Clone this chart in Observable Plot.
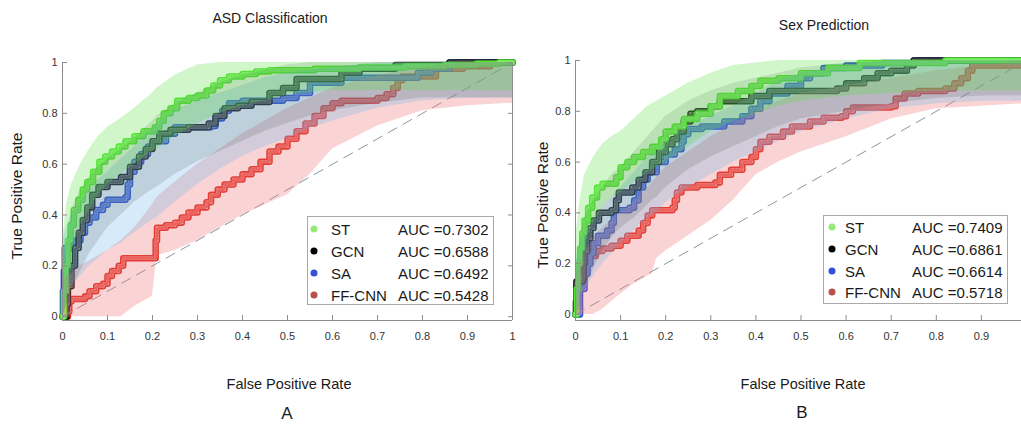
<!DOCTYPE html>
<html><head><meta charset="utf-8">
<script src="https://cdn.jsdelivr.net/npm/d3@7"></script>
<script src="https://cdn.jsdelivr.net/npm/@observablehq/plot@0.6"></script>
<style>
body{margin:0;background:#fff;}
#wrap{position:relative;width:1021px;height:424px;overflow:hidden;font-family:"Liberation Sans",Arial,Helvetica,sans-serif;color:#1a1a1a;background:#fff;}
.panel{position:absolute;top:0;}
.lbl{position:absolute;white-space:nowrap;transform:translate(-50%,-50%);line-height:1;}
.legend{position:absolute;border:1px solid #a9a9a9;background:#fff;font-size:15px;box-sizing:border-box;}
.legend .row{position:absolute;left:0;right:0;height:0;}
.legend .dot{position:absolute;width:7px;height:7px;border-radius:50%;transform:translate(-50%,-50%);top:0;}
.legend .txt{position:absolute;top:0;transform:translateY(-50%);white-space:nowrap;line-height:1;}
</style></head>
<body><div id="wrap"></div>
<script>
// ---------- categories / labels ----------
const seriesNames = ["ST", "GCN", "SA", "FF-CNN"];
const aucA = ["0.7302", "0.6588", "0.6492", "0.5428"];
const aucB = ["0.7409", "0.6861", "0.6614", "0.5718"];
const xTickValuesA = [0, 0.1, 0.2, 0.3, 0.4, 0.5, 0.6, 0.7, 0.8, 0.9, 1];
const xTickValuesB = [0, 0.1, 0.2, 0.3, 0.4, 0.5, 0.6, 0.7, 0.8, 0.9];
const yTickValues = [0, 0.2, 0.4, 0.6, 0.8, 1];
const chance = [0, 1];

// ---------- colours ----------
const lineColors = ["#4fe62e", "#111111", "#2447d6", "#e0281e"];
const bandColors = ["#55e040", "#3c4a3c", "#6ab4e8", "#f07070"];
const bandOpacity = [0.28, 0.16, 0.28, 0.3];
const legendDotColors = ["#96e977", "#000000", "#3350d6", "#b9504c"];

// ---------- panel A ROC curves [fpr, tpr] ----------
const rocA_ST = [[0,0],[0.003,0.1],[0.008,0.2],[0.012,0.3],[0.018,0.36],[0.025,0.42],[0.035,0.46],[0.045,0.5],[0.055,0.53],[0.068,0.57],[0.082,0.61],[0.095,0.63],[0.11,0.65],[0.125,0.67],[0.14,0.69],[0.16,0.71],[0.18,0.73],[0.205,0.745],[0.215,0.77],[0.225,0.8],[0.24,0.82],[0.255,0.85],[0.28,0.86],[0.3,0.87],[0.32,0.89],[0.335,0.91],[0.35,0.93],[0.37,0.945],[0.4,0.955],[0.43,0.965],[0.46,0.97],[0.56,0.975],[0.66,0.98],[0.76,0.985],[0.85,0.99],[0.92,0.995],[0.97,1],[1,1]];
const rocA_GCN = [[0,0],[0.009,0.05],[0.012,0.12],[0.02,0.2],[0.028,0.27],[0.036,0.33],[0.045,0.38],[0.055,0.43],[0.066,0.48],[0.08,0.51],[0.1,0.53],[0.13,0.55],[0.15,0.59],[0.17,0.63],[0.185,0.66],[0.2,0.69],[0.215,0.72],[0.24,0.735],[0.28,0.745],[0.325,0.76],[0.34,0.79],[0.36,0.82],[0.39,0.83],[0.42,0.845],[0.46,0.88],[0.49,0.9],[0.52,0.935],[0.62,0.96],[0.66,0.975],[0.74,0.99],[0.86,1],[1,1]];
const rocA_SA = [[0,0],[0.001,0.1],[0.003,0.18],[0.005,0.27],[0.02,0.28],[0.03,0.3],[0.04,0.33],[0.05,0.37],[0.06,0.39],[0.075,0.42],[0.09,0.44],[0.1,0.46],[0.14,0.47],[0.145,0.52],[0.15,0.57],[0.16,0.61],[0.175,0.64],[0.19,0.67],[0.2,0.69],[0.23,0.72],[0.25,0.745],[0.33,0.75],[0.34,0.78],[0.355,0.81],[0.37,0.84],[0.4,0.85],[0.49,0.86],[0.52,0.88],[0.55,0.92],[0.62,0.94],[0.79,0.96],[0.82,0.975],[0.86,1],[1,1]];
const rocA_FF = [[0,0],[0.012,0.02],[0.015,0.06],[0.02,0.07],[0.05,0.08],[0.06,0.1],[0.075,0.12],[0.09,0.13],[0.1,0.16],[0.11,0.18],[0.125,0.2],[0.135,0.23],[0.205,0.23],[0.207,0.3],[0.21,0.35],[0.23,0.36],[0.25,0.37],[0.265,0.39],[0.28,0.41],[0.3,0.43],[0.32,0.45],[0.33,0.48],[0.345,0.5],[0.36,0.52],[0.38,0.54],[0.4,0.56],[0.42,0.58],[0.44,0.61],[0.46,0.65],[0.48,0.67],[0.5,0.7],[0.52,0.73],[0.54,0.76],[0.56,0.79],[0.58,0.82],[0.6,0.84],[0.62,0.85],[0.7,0.86],[0.72,0.875],[0.735,0.9],[0.745,0.93],[0.755,0.945],[0.83,0.975],[0.89,0.985],[0.95,1],[1,1]];

// ---------- panel A bands (lower / upper) ----------
const gridA = [0,0.01,0.02,0.04,0.06,0.08,0.1,0.13,0.16,0.2,0.21,0.25,0.3,0.35,0.4,0.45,0.5,0.55,0.6,0.7,0.8,0.9,1];
const bandA_ST_hi = [0.3,0.45,0.52,0.6,0.66,0.71,0.745,0.78,0.82,0.88,0.9,0.95,0.99,1,1,1,1,1,1,1,1,1,1];
const bandA_ST_lo = [0,0.12,0.25,0.36,0.42,0.48,0.52,0.56,0.6,0.65,0.66,0.71,0.76,0.8,0.83,0.85,0.87,0.88,0.89,0.89,0.89,0.89,0.89];
const bandA_GCN_hi = [0.12,0.3,0.42,0.5,0.55,0.59,0.62,0.66,0.7,0.77,0.79,0.84,0.88,0.92,0.95,0.97,0.99,1,1,1,1,1,1];
const bandA_GCN_lo = [0,0.05,0.1,0.18,0.25,0.3,0.35,0.4,0.45,0.5,0.51,0.56,0.61,0.65,0.69,0.73,0.76,0.79,0.81,0.84,0.86,0.86,0.86];
const bandA_SA_hi = [0.3,0.36,0.4,0.45,0.5,0.54,0.57,0.62,0.67,0.74,0.76,0.81,0.85,0.88,0.91,0.94,0.96,0.97,0.98,1,1,1,1];
const bandA_SA_lo = [0,0.08,0.12,0.16,0.2,0.23,0.26,0.29,0.33,0.38,0.39,0.45,0.52,0.58,0.63,0.67,0.7,0.74,0.77,0.82,0.85,0.86,0.86];
const bandA_FF_hi = [0.14,0.16,0.17,0.2,0.22,0.24,0.26,0.3,0.35,0.44,0.47,0.53,0.6,0.66,0.72,0.77,0.82,0.86,0.9,0.95,0.98,1,1];
const bandA_FF_lo = [0,0,0,0,0,0,0,0,0.04,0.08,0.24,0.26,0.3,0.35,0.4,0.44,0.48,0.56,0.66,0.75,0.81,0.83,0.84];

// ---------- panel B ROC curves ----------
const rocB_ST = [[0,0],[0.003,0.1],[0.006,0.2],[0.01,0.26],[0.015,0.32],[0.02,0.37],[0.028,0.42],[0.037,0.46],[0.048,0.5],[0.06,0.515],[0.09,0.54],[0.1,0.58],[0.115,0.6],[0.13,0.62],[0.15,0.64],[0.17,0.66],[0.19,0.69],[0.2,0.72],[0.22,0.74],[0.24,0.77],[0.27,0.79],[0.3,0.82],[0.32,0.86],[0.36,0.88],[0.39,0.9],[0.41,0.92],[0.45,0.93],[0.5,0.95],[0.56,0.97],[0.63,0.99],[0.82,1],[1,1]];
const rocB_GCN = [[0,0],[0.001,0.05],[0.002,0.13],[0.016,0.14],[0.018,0.2],[0.02,0.25],[0.026,0.3],[0.033,0.34],[0.04,0.37],[0.052,0.4],[0.08,0.41],[0.09,0.45],[0.096,0.48],[0.126,0.5],[0.14,0.53],[0.155,0.56],[0.17,0.6],[0.185,0.64],[0.2,0.67],[0.215,0.69],[0.225,0.72],[0.24,0.76],[0.255,0.79],[0.27,0.8],[0.3,0.82],[0.32,0.84],[0.39,0.86],[0.43,0.88],[0.58,0.89],[0.6,0.91],[0.64,0.93],[0.67,0.95],[0.7,0.96],[0.735,0.98],[0.75,1],[1,1]];
const rocB_SA = [[0,0],[0.01,0.1],[0.02,0.16],[0.027,0.2],[0.033,0.24],[0.04,0.28],[0.05,0.31],[0.07,0.33],[0.08,0.36],[0.085,0.41],[0.12,0.42],[0.13,0.45],[0.14,0.5],[0.15,0.53],[0.16,0.56],[0.18,0.6],[0.2,0.63],[0.22,0.65],[0.235,0.68],[0.24,0.71],[0.25,0.73],[0.28,0.74],[0.33,0.76],[0.37,0.78],[0.39,0.81],[0.41,0.84],[0.43,0.87],[0.47,0.9],[0.5,0.93],[0.52,0.95],[0.55,0.97],[0.6,0.98],[0.68,0.99],[0.75,1],[1,1]];
const rocB_FF = [[0,0],[0.005,0.05],[0.008,0.12],[0.015,0.17],[0.022,0.2],[0.03,0.23],[0.045,0.25],[0.06,0.26],[0.08,0.27],[0.1,0.29],[0.115,0.31],[0.14,0.33],[0.15,0.36],[0.16,0.39],[0.17,0.41],[0.215,0.42],[0.22,0.45],[0.225,0.48],[0.235,0.5],[0.27,0.51],[0.31,0.52],[0.32,0.55],[0.345,0.57],[0.37,0.6],[0.39,0.62],[0.4,0.65],[0.41,0.68],[0.43,0.7],[0.46,0.72],[0.48,0.74],[0.52,0.76],[0.55,0.775],[0.59,0.78],[0.6,0.8],[0.615,0.815],[0.7,0.82],[0.71,0.85],[0.73,0.87],[0.76,0.88],[0.82,0.89],[0.84,0.91],[0.855,0.93],[0.87,0.96],[0.88,0.98],[1,0.985]];

// ---------- panel B bands ----------
const gridB = [0,0.01,0.02,0.04,0.06,0.08,0.1,0.13,0.16,0.17,0.18,0.2,0.25,0.3,0.35,0.4,0.45,0.5,0.6,0.7,0.8,0.9,1];
const bandB_ST_hi = [0.3,0.45,0.55,0.62,0.67,0.7,0.72,0.77,0.82,0.83,0.84,0.86,0.91,0.95,0.98,0.99,1,1,1,1,1,1,1];
const bandB_ST_lo = [0,0.18,0.28,0.36,0.42,0.46,0.48,0.52,0.56,0.57,0.58,0.6,0.66,0.72,0.76,0.79,0.82,0.84,0.86,0.87,0.88,0.88,0.88];
const bandB_GCN_hi = [0.15,0.3,0.38,0.45,0.5,0.55,0.58,0.64,0.7,0.72,0.74,0.78,0.84,0.88,0.91,0.93,0.95,0.97,0.99,1,1,1,1];
const bandB_GCN_lo = [0,0.02,0.1,0.18,0.25,0.3,0.34,0.38,0.43,0.45,0.46,0.5,0.57,0.62,0.66,0.7,0.74,0.77,0.8,0.83,0.85,0.86,0.86];
const bandB_SA_hi = [0.2,0.28,0.33,0.38,0.42,0.46,0.5,0.56,0.62,0.63,0.64,0.68,0.74,0.78,0.82,0.87,0.92,0.95,0.98,1,1,1,1];
const bandB_SA_lo = [0,0.05,0.1,0.15,0.2,0.24,0.28,0.33,0.38,0.39,0.4,0.44,0.5,0.55,0.6,0.64,0.68,0.72,0.77,0.81,0.83,0.84,0.84];
const bandB_FF_hi = [0.15,0.2,0.24,0.3,0.34,0.37,0.4,0.44,0.5,0.52,0.54,0.58,0.64,0.7,0.75,0.8,0.84,0.87,0.9,0.93,0.96,0.98,1];
const bandB_FF_lo = [0,0,0,0,0.02,0.05,0.08,0.12,0.15,0.16,0.22,0.25,0.31,0.37,0.45,0.55,0.6,0.64,0.7,0.77,0.81,0.82,0.83];

// ---------- drawing ----------
const axisGray = "#8c8c8c";
const fmt = d => String(d);

function drawPanel(cfg) {
  const order = [3, 2, 1, 0];
  const marks = [];
  for (const i of order) {
    const pts = cfg.rocs[i];
    const acc = {x: d => d[0], y: d => d[1], curve: "step-after"};
    marks.push(Plot.line(pts, {...acc, stroke: lineColors[i], strokeWidth: 6.5, strokeLinejoin: "round", strokeLinecap: "round"}));
    marks.push(Plot.line(pts, {...acc, stroke: "#ffffff", strokeWidth: 3.4, strokeOpacity: 0.75, strokeLinejoin: "round"}));
    marks.push(Plot.line(pts, {...acc, stroke: lineColors[i], strokeWidth: 3.4, strokeOpacity: 0.65, strokeDasharray: "0.9,2.4"}));
  }
  marks.push(Plot.line(chance, {x: d => d, y: d => d, stroke: "#8896a5", strokeWidth: 1, strokeDasharray: "10,7"}));
  for (const i of order) {
    const [lo, hi] = cfg.bands[i];
    marks.push(Plot.areaY(cfg.grid, {x: d => d, y1: (d, j) => lo[j], y2: (d, j) => hi[j], fill: bandColors[i], fillOpacity: bandOpacity[i]}));
  }
  marks.push(Plot.ruleY([cfg.yMin], {stroke: axisGray}));
  marks.push(Plot.ruleX([0], {stroke: axisGray}));
  if (cfg.rightEdge) {
    marks.push(Plot.ruleX([1], {stroke: axisGray}));
    marks.push(Plot.axisY({ticks: yTickValues, anchor: "right", tickSize: -5, tickFormat: () => "", stroke: axisGray, label: null}));
  }
  marks.push(Plot.axisX({ticks: cfg.xTicks, anchor: "bottom", tickSize: -5, tickPadding: 17, tickFormat: fmt, fill: "#333", stroke: axisGray, fontSize: 11, label: null}));
  marks.push(Plot.axisY({ticks: yTickValues, anchor: "left", tickSize: -5, tickPadding: 10, tickFormat: fmt, fill: "#333", stroke: axisGray, fontSize: 11, label: null}));
  return Plot.plot({
    width: 520, height: 424,
    marginLeft: cfg.marginLeft, marginRight: cfg.marginRight, marginTop: cfg.marginTop, marginBottom: 104,
    x: {domain: [0, 1]}, y: {domain: [cfg.yMin, 1]},
    style: {fontFamily: '"Liberation Sans", Arial, Helvetica, sans-serif', fontSize: "11px", background: "transparent", overflow: "visible"},
    marks
  });
}

const wrap = document.getElementById("wrap");

const svgA = drawPanel({
  rocs: [rocA_ST, rocA_GCN, rocA_SA, rocA_FF],
  grid: gridA,
  bands: [[bandA_ST_lo, bandA_ST_hi], [bandA_GCN_lo, bandA_GCN_hi], [bandA_SA_lo, bandA_SA_hi], [bandA_FF_lo, bandA_FF_hi]],
  xTicks: xTickValuesA,
  yMin: -0.015, marginLeft: 62, marginRight: 8, marginTop: 62, rightEdge: true
});
svgA.classList.add("panel"); svgA.style.left = "0px";
wrap.appendChild(svgA);

const svgB = drawPanel({
  rocs: [rocB_ST, rocB_GCN, rocB_SA, rocB_FF],
  grid: gridB,
  bands: [[bandB_ST_lo, bandB_ST_hi], [bandB_GCN_lo, bandB_GCN_hi], [bandB_SA_lo, bandB_SA_hi], [bandB_FF_lo, bandB_FF_hi]],
  xTicks: xTickValuesB,
  yMin: -0.024, marginLeft: 55, marginRight: 14, marginTop: 60, rightEdge: false
});
svgB.classList.add("panel"); svgB.style.left = "520px";
wrap.appendChild(svgB);

function addLabel(text, x, y, size, rotate) {
  const d = document.createElement("div");
  d.className = "lbl";
  d.textContent = text;
  d.style.left = x + "px"; d.style.top = y + "px"; d.style.fontSize = size + "px";
  if (rotate) d.style.transform = "translate(-50%,-50%) rotate(-90deg)";
  wrap.appendChild(d);
}
addLabel("ASD Classification", 270, 18, 14);
addLabel("Sex Prediction", 824, 25, 14);
addLabel("True Positive Rate", 17, 196, 15.5, true);
addLabel("True Positive Rate", 543, 205, 15.5, true);
addLabel("False Positive Rate", 289, 384, 14.5);
addLabel("False Positive Rate", 803, 384, 14.5);
addLabel("A", 287, 413, 17);
addLabel("B", 802, 412, 17);

function addLegend(cfg, aucs) {
  const box = document.createElement("div");
  box.className = "legend";
  Object.assign(box.style, {left: cfg.left + "px", top: cfg.top + "px", width: cfg.w + "px", height: cfg.h + "px"});
  seriesNames.forEach((name, i) => {
    const row = document.createElement("div");
    row.className = "row";
    row.style.top = (cfg.row0 + cfg.step * i) + "px";
    const dot = document.createElement("div");
    dot.className = "dot"; dot.style.left = cfg.dotX + "px"; dot.style.background = legendDotColors[i];
    const t1 = document.createElement("div");
    t1.className = "txt"; t1.style.left = cfg.nameX + "px"; t1.textContent = name;
    const t2 = document.createElement("div");
    t2.className = "txt"; t2.style.left = cfg.aucX + "px"; t2.textContent = "AUC =" + aucs[i];
    row.append(dot, t1, t2);
    box.appendChild(row);
  });
  wrap.appendChild(box);
}
addLegend({left: 307, top: 216, w: 187, h: 89, dotX: 6, nameX: 23, aucX: 90, row0: 12, step: 22}, aucA);
addLegend({left: 823, top: 215, w: 185, h: 89, dotX: 8, nameX: 21, aucX: 88, row0: 11, step: 21.8}, aucB);
</script></body></html>
